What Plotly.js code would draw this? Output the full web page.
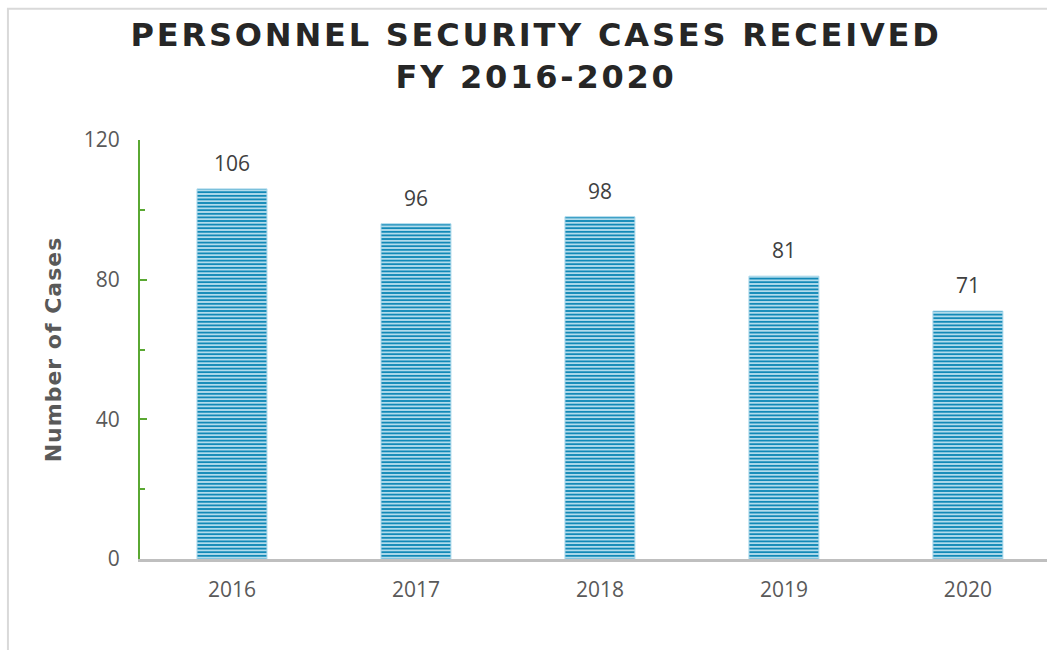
<!DOCTYPE html>
<html>
<head>
<meta charset="utf-8">
<script src="https://cdn.plot.ly/plotly-3.0.1.min.js"></script>
<style>
  html, body { margin: 0; padding: 0; background: #ffffff; }
  #chart { width: 1047px; height: 650px; }
  .gtitle { letter-spacing: 2.8px; }
  .ytitle { letter-spacing: 1px; }
</style>
</head>
<body>
<div id="chart"></div>
<script>
// ---- data ----
const years = ["2016", "2017", "2018", "2019", "2020"];
const cases = [106, 96, 98, 81, 71];
const yTickVals = [0, 40, 80, 120];
const yTickText = ["0", "40", "80", "120"];
const chartTitle = "PERSONNEL SECURITY CASES RECEIVED<br>FY 2016-2020";
const yTitle = "Number of Cases";

// ---- chart ----
const bars = {
  type: "bar",
  x: years,
  y: cases,
  width: 0.38,
  marker: {
    color: "#bfe3f1",
    line: { color: "#a6d6ea", width: 1 },
    pattern: {
      shape: "-",
      fgcolor: "#1289b7",
      bgcolor: "#c4e5f2",
      size: 3.6,
      solidity: 0.55,
      fillmode: "replace"
    }
  },
  hoverinfo: "x+y",
  showlegend: false
};

const labels = cases.map((v, i) => ({
  x: i,
  y: v,
  xref: "x",
  yref: "y",
  text: String(v),
  showarrow: false,
  yanchor: "bottom",
  yshift: 10,
  font: { family: "Open Sans, sans-serif", size: 21, color: "#404040" }
}));

const layout = {
  width: 1047,
  height: 650,
  margin: { l: 140, r: 0, t: 140, b: 91, pad: 0 },
  paper_bgcolor: "#ffffff",
  plot_bgcolor: "#ffffff",
  title: {
    text: chartTitle,
    x: 0.512,
    xref: "container",
    xanchor: "center",
    y: 0.929,
    yref: "container",
    yanchor: "middle",
    font: { family: "DejaVu Sans, sans-serif", size: 32, color: "#262626", weight: "bold" }
  },
  xaxis: {
    type: "category",
    range: [-0.5, 4.43],
    showgrid: false,
    zeroline: false,
    showline: true,
    linecolor: "#bfbfbf",
    linewidth: 3,
    ticks: "",
    tickfont: { family: "Open Sans, sans-serif", size: 21, color: "#595959" },
    ticklabelstandoff: 10,
    fixedrange: true
  },
  yaxis: {
    range: [0, 120],
    tickvals: yTickVals,
    ticktext: yTickText,
    showgrid: false,
    zeroline: false,
    showline: true,
    linecolor: "#5aa832",
    linewidth: 2,
    ticks: "inside",
    ticklen: 7,
    tickwidth: 2,
    tickcolor: "#5aa832",
    minor: { dtick: 20, tick0: 0, ticks: "inside", ticklen: 5, tickwidth: 2, tickcolor: "#5aa832", showgrid: false },
    tickfont: { family: "Open Sans, sans-serif", size: 21, color: "#595959" },
    ticklabelstandoff: 14,
    title: {
      text: yTitle,
      standoff: 16,
      font: { family: "DejaVu Sans, sans-serif", size: 22, color: "#595959", weight: "bold" }
    },
    fixedrange: true
  },
  annotations: labels,
  shapes: [
    { type: "line", xref: "paper", yref: "paper", x0: -0.1456, x1: -0.1456, y0: 1.3134, y1: -0.3, line: { color: "#d9d9d9", width: 2 } },
    { type: "line", xref: "paper", yref: "paper", x0: -0.1467, x1: 1.01, y0: 1.3134, y1: 1.3134, line: { color: "#d9d9d9", width: 2 } }
  ]
};

Plotly.newPlot("chart", [bars], layout, { displayModeBar: false });
</script>
</body>
</html>
